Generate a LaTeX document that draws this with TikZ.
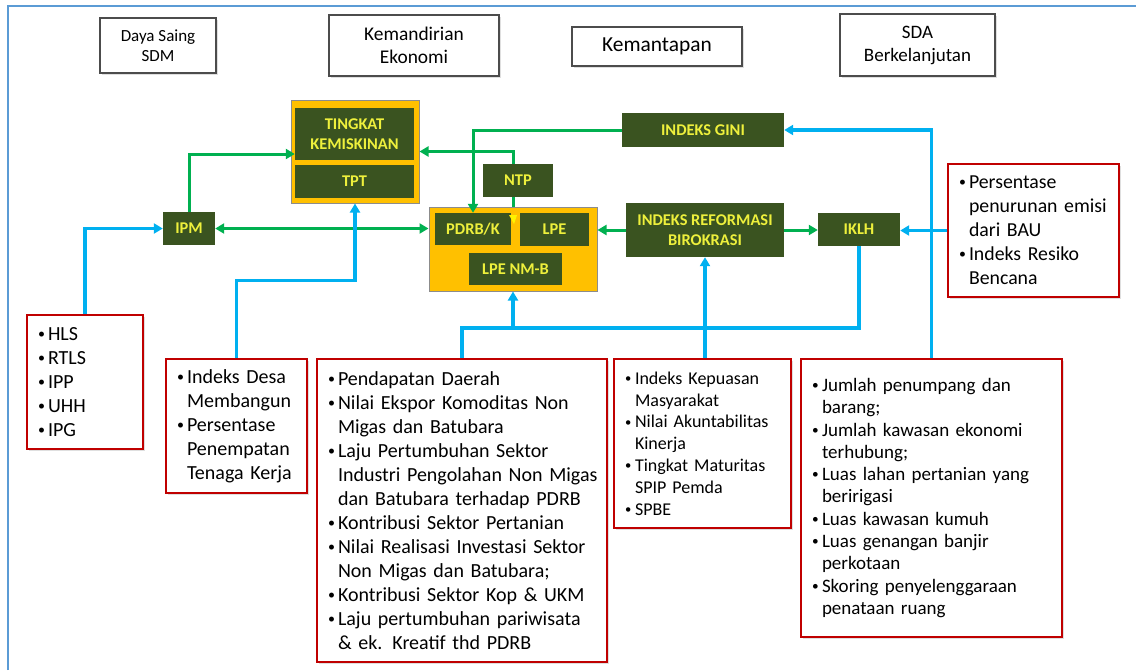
\documentclass[tikz,border=0pt]{standalone}
\usepackage{fontspec}
\setmainfont{Carlito}
\usetikzlibrary{arrows.meta,shadows}
\definecolor{dgreen}{HTML}{3A5320}
\definecolor{ytext}{HTML}{EEF03C}
\definecolor{orbox}{HTML}{FFC000}
\definecolor{gline}{HTML}{00B050}
\definecolor{bline}{HTML}{00B0F0}
\definecolor{rbox}{HTML}{C00000}
\definecolor{frameblue}{HTML}{5B9BD5}
\newcommand{\bl}{\makebox[10pt][l]{\raisebox{.1em}{\scalebox{.7}{\textbullet}}}}
\newcommand{\ct}{\hspace*{10pt}}

\begin{document}
\begin{tikzpicture}[x=1pt,y=-1pt,
  hdr/.style={draw=black!70, line width=1.2pt, fill=white, align=center, inner sep=0pt,
    drop shadow={shadow xshift=1.5pt, shadow yshift=-1.5pt, opacity=.25}},
  ind/.style={fill=dgreen, text=ytext, align=center, inner sep=0pt, font=\fontsize{16.4}{20}\selectfont\bfseries},
  grp/.style={fill=orbox, draw=black!45, line width=1pt, inner sep=0pt},
  lst/.style={draw=rbox, line width=1.5pt, fill=white, align=left, inner xsep=11pt, inner ysep=0pt,
    font=\fontsize{20}{24}\selectfont, drop shadow={shadow xshift=1.5pt, shadow yshift=-1.5pt, opacity=.25}},
  glink/.style={draw=gline, line width=3pt},
  blink/.style={draw=bline, line width=3.5pt},
  arr/.style={-{Triangle[length=9pt,width=10pt]}},
  darr/.style={{Triangle[length=9pt,width=10pt]}-{Triangle[length=9pt,width=10pt]}}]
  \useasboundingbox (0,0) rectangle (1136,670);
  \draw[frameblue, line width=2pt] (8,670) -- (8,6) -- (1136,6);

  \node[hdr, minimum width=116pt, minimum height=55pt, font=\fontsize{17}{20}\selectfont] (sdm) at (158,45.5) {Daya Saing\\SDM};
  \node[hdr, minimum width=170pt, minimum height=61pt, font=\fontsize{19.4}{23}\selectfont] (eko) at (414,45.5) {Kemandirian\\Ekonomi};
  \node[hdr, minimum width=170pt, minimum height=39pt, font=\fontsize{21.4}{24}\selectfont] (mantap) at (657,46.5) {Kemantapan};
  \node[hdr, minimum width=155pt, minimum height=62pt, font=\fontsize{19}{23}\selectfont] (sda) at (917.5,45) {SDA\\Berkelanjutan};

  \node[grp, minimum width=128pt, minimum height=103pt] (box1) at (355,151.5) {};
  \node[grp, minimum width=168pt, minimum height=84pt] (box2) at (513,249) {};

  \node[ind, minimum width=119pt, minimum height=52pt] (kemiskinan) at (354.5,134) {TINGKAT\\KEMISKINAN};
  \node[ind, minimum width=119pt, minimum height=33pt] (tpt) at (354.5,181.5) {TPT};
  \node[ind, minimum width=70pt, minimum height=33pt] (ntp) at (518,180.5) {NTP};
  \node[ind, minimum width=76pt, minimum height=32pt] (pdrb) at (473,229) {PDRB/K};
  \node[ind, minimum width=69pt, minimum height=33pt] (lpe) at (554.5,229.5) {LPE};
  \node[ind, minimum width=93pt, minimum height=32pt] (lpenmb) at (515.5,269) {LPE NM-B};
  \node[ind, minimum width=52pt, minimum height=33pt] (ipm) at (189,228.5) {IPM};
  \node[ind, minimum width=162pt, minimum height=34pt] (gini) at (703,130) {INDEKS GINI};
  \node[ind, minimum width=158pt, minimum height=54pt] (reform) at (705,230) {INDEKS REFORMASI\\BIROKRASI};
  \node[ind, minimum width=82pt, minimum height=33pt] (iklh) at (859,229.5) {IKLH};
  \fill[yellow] (509,215) -- (517,215) -- (514,224) -- cycle;

  \node[lst, text width=94pt, minimum height=134pt] (hls) at (85,382) {\bl HLS\\\bl RTLS\\\bl IPP\\\bl UHH\\\bl IPG};
  \node[lst, text width=119pt, minimum height=134pt] (desa) at (236.5,426) {\bl Indeks Desa\\\ct Membangun\\\bl Persentase\\\ct Penempatan\\\ct Tenaga Kerja};
  \node[lst, text width=268pt, minimum height=303pt] (pend) at (462,510.5) {\bl Pendapatan Daerah\\\bl Nilai Ekspor Komoditas Non\\\ct Migas dan Batubara\\\bl Laju Pertumbuhan Sektor\\\ct\mbox{Industri Pengolahan Non Migas}\\\ct dan Batubara terhadap PDRB\\\bl Kontribusi Sektor Pertanian\\\bl Nilai Realisasi Investasi Sektor\\\ct Non Migas dan Batubara;\\\bl Kontribusi Sektor Kop \& UKM\\\bl Laju pertumbuhan pariwisata\\\ct \& ek. Kreatif thd PDRB};
  \node[lst, text width=155pt, minimum height=169pt, font=\fontsize{18}{21.8}\selectfont] (kep) at (702.5,443.5) {\bl Indeks Kepuasan\\\ct Masyarakat\\\bl Nilai Akuntabilitas\\\ct Kinerja\\\bl Tingkat Maturitas\\\ct SPIP Pemda\\\bl SPBE};
  \node[lst, text width=239pt, minimum height=278pt, font=\fontsize{19}{22.3}\selectfont] (jum) at (931.5,498) {\bl Jumlah penumpang dan\\\ct barang;\\\bl Jumlah kawasan ekonomi\\\ct terhubung;\\\bl\mbox{Luas lahan pertanian yang}\\\ct beririgasi\\\bl Luas kawasan kumuh\\\bl Luas genangan banjir\\\ct perkotaan\\\bl Skoring penyelenggaraan\\\ct penataan ruang};
  \node[lst, text width=149pt, minimum height=133pt, font=\fontsize{19.8}{24}\selectfont] (persen) at (1033.5,230.5) {\bl Persentase\\\ct penurunan emisi\\\ct dari BAU\\\bl Indeks Resiko\\\ct Bencana};
  \coordinate (busline) at (0,328);

  \draw[glink, arr] (ipm.north) |- ([yshift=-20pt]kemiskinan.west);
  \draw[glink, darr] (ipm.east) -- (ipm.east -| box2.west);
  \draw[glink] (box2.north) -- (box2.north |- ntp.south);
  \draw[glink, arr] (box2.north |- ntp.north) |- (box1.east);
  \draw[glink, arr] (gini.west) -| (pdrb.north);
  \draw[glink, arr] (reform.west) -- (reform.west -| box2.east);
  \draw[glink, arr] (reform.east) -- (reform.east -| iklh.west);
  \draw[blink, arr] (hls.north) |- (ipm.west);
  \draw[blink, arr] (desa.north) -- ++(0,-78) -| (box1.south);
  \draw[blink] (pend.north) |- (iklh.south |- busline) -- (iklh.south);
  \draw[blink, arr] (box2.south |- busline) -- (box2.south);
  \draw[blink, arr] (reform.south |- kep.north) -- (reform.south);
  \draw[blink, arr] (jum.north) |- (gini.east);
  \draw[blink, arr] (persen.west) -- (persen.west -| iklh.east);
\end{tikzpicture}
\end{document}
